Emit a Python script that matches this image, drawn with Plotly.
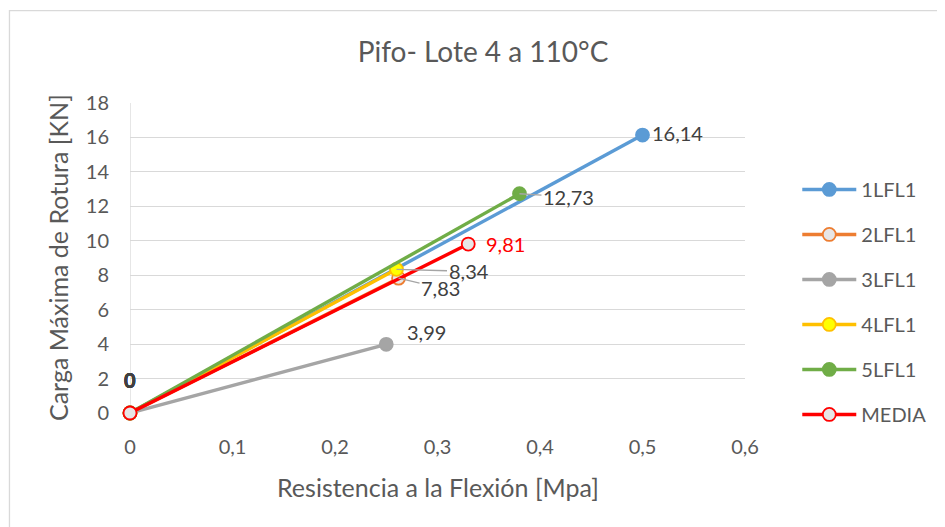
import plotly.graph_objects as go

# ---- data ----
series_names = ["1LFL1", "2LFL1", "3LFL1", "4LFL1", "5LFL1", "MEDIA"]
x_start = [0, 0, 0, 0, 0, 0]
y_start = [0, 0, 0, 0, 0, 0]
x_end = [0.50, 0.262, 0.25, 0.26, 0.38, 0.33]
y_end = [16.14, 7.83, 3.99, 8.34, 12.73, 9.81]
x_ticks = [0, 0.1, 0.2, 0.3, 0.4, 0.5, 0.6]
y_ticks = [0, 2, 4, 6, 8, 10, 12, 14, 16, 18]

# ---- styles ----
line_colors = ["#5B9BD5", "#ED7D31", "#A5A5A5", "#FFC000", "#70AD47", "#FF0000"]
marker_fill = ["#5B9BD5", "#E7E6E6", "#A5A5A5", "#FFFF00", "#70AD47", "#E7E6E6"]
FONT = "Lato, Open Sans, sans-serif"
TXT = "#595959"
LBL = "#404040"

fig = go.Figure()
for i, name in enumerate(series_names):
    fig.add_trace(go.Scatter(
        x=[x_start[i], x_end[i]], y=[y_start[i], y_end[i]],
        mode="lines+markers", name=name, legendgroup=name, cliponaxis=False,
        line=dict(color=line_colors[i], width=3.4),
        marker=dict(size=13, color=marker_fill[i],
                    line=dict(color=line_colors[i], width=1.8)),
    ))

def fmt(v):
    return f"{v:.2f}".replace(".", ",")

ann = []
place = {
    0: dict(xshift=7, yshift=2),
    2: dict(xshift=19, yshift=12),
    5: dict(xshift=16, yshift=0),
}
for i, p in place.items():
    ann.append(dict(x=x_end[i], y=y_end[i], xref="x", yref="y", text=fmt(y_end[i]),
                    showarrow=False, xanchor="left", yanchor="middle",
                    xshift=p["xshift"], yshift=p["yshift"],
                    font=dict(family=FONT, size=20,
                              color="#FF0000" if i == 5 else LBL)))
arrows = {4: (49, 3), 3: (72, 2), 1: (42, 10)}
for i, (ax, ay) in arrows.items():
    ann.append(dict(x=x_end[i], y=y_end[i], xref="x", yref="y", text=fmt(y_end[i]),
                    showarrow=True, arrowhead=0, arrowwidth=1.3, arrowcolor="#A5A5A5",
                    ax=ax, ay=ay, standoff=0,
                    font=dict(family=FONT, size=20, color=LBL)))
for i in range(len(series_names)):
    ann.append(dict(x=x_start[i], y=y_start[i], xref="x", yref="y", text="<b>0</b>",
                    showarrow=False, yshift=33, xanchor="center",
                    font=dict(family=FONT, size=20, color=LBL)))
ann.append(dict(x=0.5, y=-0.239, xref="paper", yref="paper",
                text="Resistencia a la Flexión [Mpa]", showarrow=False,
                xanchor="center", yanchor="middle",
                font=dict(family=FONT, size=25, color=TXT)))
ann.append(dict(x=-0.117, y=0.5, xref="paper", yref="paper",
                text="Carga Máxima de Rotura [KN]", showarrow=False, textangle=-90,
                xanchor="center", yanchor="middle",
                font=dict(family=FONT, size=25, color=TXT)))

fig.update_layout(
    width=937, height=519,
    margin=dict(l=122, r=200, t=95, b=114),
    paper_bgcolor="white", plot_bgcolor="white",
    separators=",.",
    title=dict(text="Pifo- Lote 4 a 110°C", x=0.507, y=0.915, xref="container",
               yref="container", xanchor="center", yanchor="middle",
               font=dict(family=FONT, size=28, color=TXT)),
    font=dict(family=FONT, size=20, color=TXT),
    legend=dict(x=1.085, y=0.784, xanchor="left", yanchor="top",
                font=dict(family=FONT, size=20, color=TXT),
                tracegroupgap=16, itemwidth=54, bgcolor="rgba(0,0,0,0)"),
    annotations=ann,
    shapes=[dict(type="rect", xref="paper", yref="paper",
                 x0=-0.196, x1=1.5, y0=-0.6, y1=1.298,
                 line=dict(color="#D9D9D9", width=1.3), layer="below")],
)
fig.update_xaxes(range=[0, 0.6], tickvals=x_ticks, showgrid=False, zeroline=False,
                 showline=False, ticks="", ticklabelstandoff=20,
                 tickfont=dict(family=FONT, size=20, color=TXT))
fig.update_yaxes(range=[0, 18], tickvals=y_ticks, showgrid=True, gridcolor="#D9D9D9",
                 gridwidth=1.3, zeroline=False, showline=False, ticks="",
                 ticklabelstandoff=20,
                 tickfont=dict(family=FONT, size=20, color=TXT))
fig.add_shape(type="line", xref="x", yref="paper", x0=0, x1=0, y0=0, y1=1,
              line=dict(color="#D9D9D9", width=1.3), layer="below")

fig.write_html("out.html")
